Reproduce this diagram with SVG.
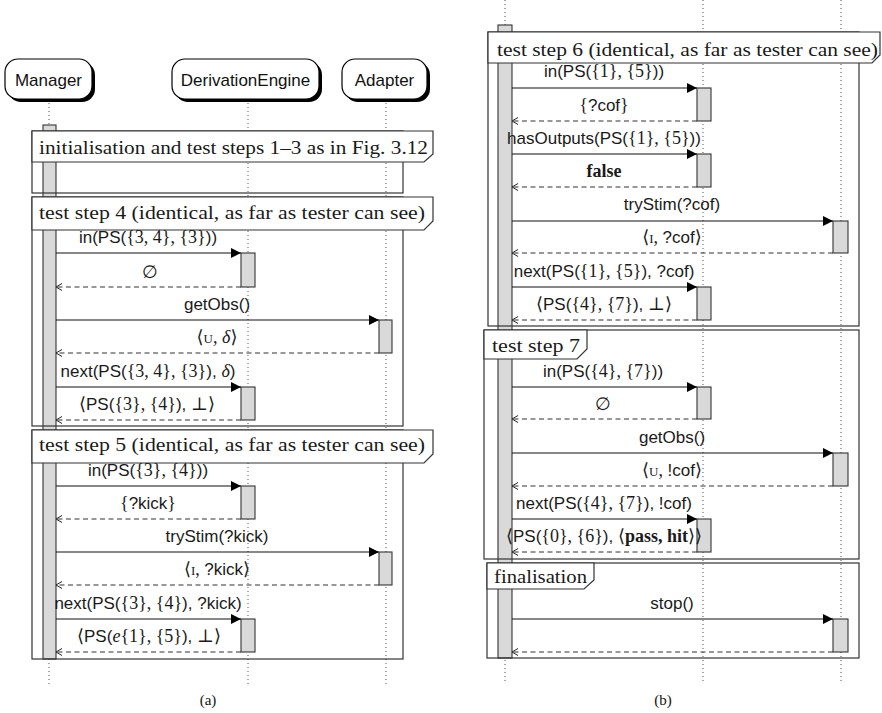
<svg xmlns="http://www.w3.org/2000/svg" width="882" height="713" viewBox="0 0 882 713">
<style>
.bg{fill:#fff}
.life{stroke:#555;stroke-width:1;stroke-dasharray:1 3;fill:none}
.hdr{fill:#fff;stroke:#000;stroke-width:1.2}
.shd{fill:#000}
.hname{font-family:"Liberation Sans","DejaVu Sans",sans-serif;font-size:17px;fill:#111;text-anchor:middle}
.act{fill:#d9d9d9;stroke:#333;stroke-width:1.1}
.frame{fill:none;stroke:#333;stroke-width:1.2}
.flab{fill:#fff;stroke:#333;stroke-width:1.2}
.ft{font-family:"Liberation Serif","DejaVu Serif",serif;font-size:18px;fill:#1a1a1a}
.call{stroke:#111;stroke-width:1.1;fill:none;marker-end:url(#ah)}
.ret{stroke:#333;stroke-width:1.1;fill:none;stroke-dasharray:5 3.5;marker-end:url(#oa)}
.lb{font-family:"Liberation Sans","DejaVu Sans",sans-serif;font-size:17px;fill:#1a1a1a;text-anchor:middle}
.m{font-family:"Liberation Serif","DejaVu Serif",serif;font-size:18px}
.sc{font-variant:small-caps}
.it{font-style:italic}
.bf{font-weight:bold}
.cap{font-family:"Liberation Serif","DejaVu Serif",serif;font-size:15px;fill:#111;text-anchor:middle}
</style>
<defs>
<marker id="ah" markerUnits="userSpaceOnUse" markerWidth="11" markerHeight="11" refX="10" refY="5" orient="auto"><path d="M0,0 L10,5 L0,10 Z" fill="#000"/></marker>
<marker id="oa" markerUnits="userSpaceOnUse" markerWidth="8" markerHeight="9" refX="6.5" refY="4" orient="auto"><path d="M0.5,0.5 L6.5,4 L0.5,7.5" fill="none" stroke="#222" stroke-width="1"/></marker>
</defs>
<rect class="bg" x="0" y="0" width="882" height="713"/>

<!-- ===== Panel (a) ===== -->
<g id="a-manager">
  <line class="life" x1="49" y1="103" x2="49" y2="684"/>
  <rect class="shd" x="8" y="62" width="87" height="40" rx="13"/>
  <rect class="hdr" x="5" y="59" width="87" height="40" rx="13"/>
  <text class="hname" x="48.5" y="86">Manager</text>
  <rect class="act" x="43" y="125" width="13" height="534"/>
</g>
<g id="a-derivationengine">
  <line class="life" x1="248" y1="103" x2="248" y2="684"/>
  <rect class="shd" x="175" y="62" width="147" height="40" rx="13"/>
  <rect class="hdr" x="172" y="59" width="147" height="40" rx="13"/>
  <text class="hname" x="245.5" y="86">DerivationEngine</text>
</g>
<g id="a-adapter">
  <line class="life" x1="386" y1="103" x2="386" y2="684"/>
  <rect class="shd" x="345" y="62" width="85" height="40" rx="13"/>
  <rect class="hdr" x="342" y="59" width="85" height="40" rx="13"/>
  <text class="hname" x="384.5" y="86">Adapter</text>
</g>

<g id="a-frame-init">
  <rect class="frame" x="32" y="131" width="371" height="62"/>
  <path class="flab" d="M32,131 H433 V154 L424,162 H32 Z"/>
  <text class="ft" x="39" y="154" textLength="389" lengthAdjust="spacingAndGlyphs">initialisation and test steps 1–3 as in Fig. 3.12</text>
</g>
<g id="a-frame-step4">
  <rect class="frame" x="32" y="197" width="371" height="229"/>
  <path class="flab" d="M32,197 H433 V221 L424,230 H32 Z"/>
  <text class="ft" x="39" y="219" textLength="386" lengthAdjust="spacingAndGlyphs">test step 4 (identical, as far as tester can see)</text>
</g>
<g id="a-frame-step5">
  <rect class="frame" x="32" y="430" width="371" height="229"/>
  <path class="flab" d="M32,430 H433 V454 L424,463 H32 Z"/>
  <text class="ft" x="39" y="451" textLength="386" lengthAdjust="spacingAndGlyphs">test step 5 (identical, as far as tester can see)</text>
</g>

<g id="a-activations">
  <rect class="act" x="241" y="253" width="14" height="34"/>
  <rect class="act" x="379" y="320" width="13" height="33"/>
  <rect class="act" x="241" y="387" width="14" height="33"/>
  <rect class="act" x="241" y="486" width="14" height="33"/>
  <rect class="act" x="379" y="552" width="13" height="33"/>
  <rect class="act" x="241" y="619" width="14" height="33"/>
</g>

<g id="a-connectors">
  <line class="call" x1="56" y1="253" x2="241" y2="253"/>
  <line class="ret" x1="241" y1="287" x2="56" y2="287"/>
  <line class="call" x1="56" y1="320" x2="379" y2="320"/>
  <line class="ret" x1="379" y1="353" x2="56" y2="353"/>
  <line class="call" x1="56" y1="387" x2="241" y2="387"/>
  <line class="ret" x1="241" y1="420" x2="56" y2="420"/>
  <line class="call" x1="56" y1="486" x2="241" y2="486"/>
  <line class="ret" x1="241" y1="519" x2="56" y2="519"/>
  <line class="call" x1="56" y1="552" x2="379" y2="552"/>
  <line class="ret" x1="379" y1="585" x2="56" y2="585"/>
  <line class="call" x1="56" y1="619" x2="241" y2="619"/>
  <line class="ret" x1="241" y1="652" x2="56" y2="652"/>
</g>

<g id="a-labels">
  <text class="lb" x="148" y="243">in(PS(<tspan class="m">{3, 4}, {3}</tspan>))</text>
  <text class="lb m" x="150" y="278">∅</text>
  <text class="lb" x="217" y="310">getObs()</text>
  <text class="lb m" x="217" y="343">⟨<tspan class="sc">u</tspan>, <tspan class="it">δ</tspan>⟩</text>
  <text class="lb" x="148" y="377">next(PS(<tspan class="m">{3, 4}, {3}</tspan>), <tspan class="m it">δ</tspan>)</text>
  <text class="lb" x="147" y="410"><tspan class="m">⟨</tspan>PS(<tspan class="m">{3}, {4}</tspan>), <tspan class="m">⊥⟩</tspan></text>
  <text class="lb" x="148" y="476">in(PS(<tspan class="m">{3}, {4}</tspan>))</text>
  <text class="lb" x="148" y="509"><tspan class="m">{</tspan>?kick<tspan class="m">}</tspan></text>
  <text class="lb" x="217" y="542">tryStim(?kick)</text>
  <text class="lb" x="217" y="575"><tspan class="m">⟨<tspan class="sc">i</tspan>, </tspan>?kick<tspan class="m">⟩</tspan></text>
  <text class="lb" x="148" y="609">next(PS(<tspan class="m">{3}, {4}</tspan>), ?kick)</text>
  <text class="lb" x="149" y="642"><tspan class="m">⟨</tspan>PS(<tspan class="m"><tspan class="it">e</tspan>{1}, {5}</tspan>), <tspan class="m">⊥⟩</tspan></text>
</g>
<text class="cap" x="208" y="705">(a)</text>

<!-- ===== Panel (b) ===== -->
<g id="b-manager">
  <line class="life" x1="505" y1="0" x2="505" y2="683"/>
  <rect class="act" x="498" y="25" width="14" height="633"/>
</g>
<g id="b-derivationengine">
  <line class="life" x1="703" y1="0" x2="703" y2="683"/>
</g>
<g id="b-adapter">
  <line class="life" x1="841" y1="0" x2="841" y2="683"/>
</g>

<g id="b-frame-step6">
  <rect class="frame" x="488" y="32" width="371" height="294"/>
  <path class="flab" d="M488,32 H880 V55 L872,63 H488 Z"/>
  <text class="ft" x="497" y="56" textLength="381" lengthAdjust="spacingAndGlyphs">test step 6 (identical, as far as tester can see)</text>
</g>
<g id="b-frame-step7">
  <rect class="frame" x="484" y="330" width="375" height="229"/>
  <path class="flab" d="M484,330 H587 V349 L577,359 H484 Z"/>
  <text class="ft" x="492" y="352" textLength="88" lengthAdjust="spacingAndGlyphs">test step 7</text>
</g>
<g id="b-frame-final">
  <rect class="frame" x="487" y="563" width="372" height="95"/>
  <path class="flab" d="M487,563 H594 V580 L584,589 H487 Z"/>
  <text class="ft" x="494" y="583" textLength="93" lengthAdjust="spacingAndGlyphs">finalisation</text>
</g>

<g id="b-activations">
  <rect class="act" x="697" y="88" width="14" height="33"/>
  <rect class="act" x="697" y="154" width="14" height="33"/>
  <rect class="act" x="833" y="221" width="15" height="32"/>
  <rect class="act" x="697" y="287" width="14" height="33"/>
  <rect class="act" x="697" y="387" width="14" height="32"/>
  <rect class="act" x="833" y="453" width="15" height="33"/>
  <rect class="act" x="697" y="519" width="14" height="33"/>
  <rect class="act" x="833" y="619" width="15" height="33"/>
</g>

<g id="b-connectors">
  <line class="call" x1="512" y1="88" x2="697" y2="88"/>
  <line class="ret" x1="697" y1="121" x2="512" y2="121"/>
  <line class="call" x1="512" y1="154" x2="697" y2="154"/>
  <line class="ret" x1="697" y1="187" x2="512" y2="187"/>
  <line class="call" x1="512" y1="221" x2="833" y2="221"/>
  <line class="ret" x1="833" y1="253" x2="512" y2="253"/>
  <line class="call" x1="512" y1="287" x2="697" y2="287"/>
  <line class="ret" x1="697" y1="320" x2="512" y2="320"/>
  <line class="call" x1="512" y1="387" x2="697" y2="387"/>
  <line class="ret" x1="697" y1="419" x2="512" y2="419"/>
  <line class="call" x1="512" y1="453" x2="833" y2="453"/>
  <line class="ret" x1="833" y1="486" x2="512" y2="486"/>
  <line class="call" x1="512" y1="519" x2="697" y2="519"/>
  <line class="ret" x1="697" y1="552" x2="512" y2="552"/>
  <line class="call" x1="512" y1="619" x2="833" y2="619"/>
  <line class="ret" x1="833" y1="652" x2="512" y2="652"/>
</g>

<g id="b-labels">
  <text class="lb" x="604" y="77">in(PS(<tspan class="m">{1}, {5}</tspan>))</text>
  <text class="lb" x="604" y="111"><tspan class="m">{</tspan>?cof<tspan class="m">}</tspan></text>
  <text class="lb" x="604" y="144">hasOutputs(PS(<tspan class="m">{1}, {5}</tspan>))</text>
  <text class="lb m bf" x="604" y="177">false</text>
  <text class="lb" x="672" y="210">tryStim(?cof)</text>
  <text class="lb" x="672" y="243"><tspan class="m">⟨<tspan class="sc">i</tspan>, </tspan>?cof<tspan class="m">⟩</tspan></text>
  <text class="lb" x="604" y="277">next(PS(<tspan class="m">{1}, {5}</tspan>), ?cof)</text>
  <text class="lb" x="604" y="310"><tspan class="m">⟨</tspan>PS(<tspan class="m">{4}, {7}</tspan>), <tspan class="m">⊥⟩</tspan></text>
  <text class="lb" x="603" y="377">in(PS(<tspan class="m">{4}, {7}</tspan>))</text>
  <text class="lb m" x="603" y="410">∅</text>
  <text class="lb" x="672" y="443">getObs()</text>
  <text class="lb" x="672" y="476"><tspan class="m">⟨<tspan class="sc">u</tspan>, </tspan>!cof<tspan class="m">⟩</tspan></text>
  <text class="lb" x="604" y="509">next(PS(<tspan class="m">{4}, {7}</tspan>), !cof)</text>
  <text class="lb" x="604" y="542"><tspan class="m">⟨</tspan>PS(<tspan class="m">{0}, {6}</tspan>), <tspan class="m">⟨<tspan class="bf">pass, hit</tspan>⟩⟩</tspan></text>
  <text class="lb" x="672" y="609">stop()</text>
</g>
<text class="cap" x="663" y="705">(b)</text>
</svg>
